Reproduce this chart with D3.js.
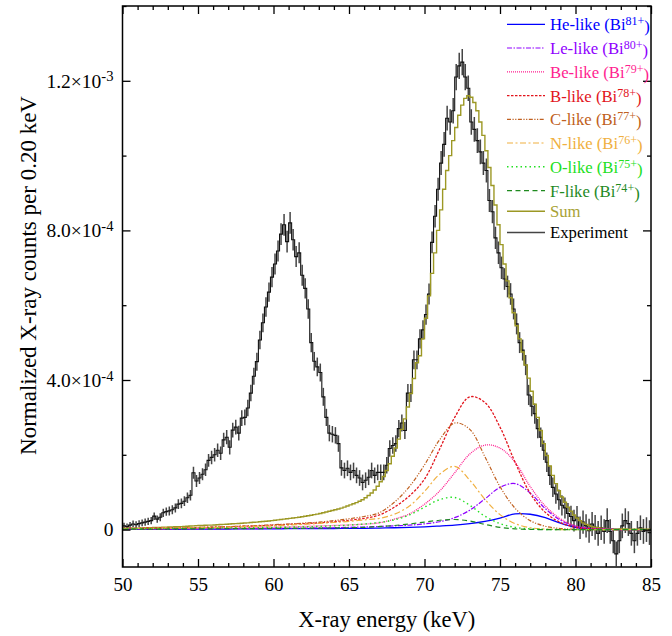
<!DOCTYPE html>
<html>
<head>
<meta charset="utf-8">
<script src="https://cdn.jsdelivr.net/npm/d3@7"></script>
<style>
  body { margin: 0; background: #fff; }
  svg text { font-family: "Liberation Serif", "Times New Roman", serif; }
</style>
</head>
<body>
<svg id="chart" width="672" height="636"></svg>
<script>
// All intensities below are in units of 1e-5 (normalized counts per 0.20 keV bin)
const UNIT = 1e-5;
const BIN_START = 50;     // keV, left edge of the first histogram bin
const BIN_WIDTH = 0.2;    // keV

// Measured spectrum, one value per 0.2 keV bin from 50 to 85 keV
const experiment = [
  1.0, 0.8, 1.2, 1.5, 1.3, 1.6, 1.8, 2.0, 2.2, 2.4,
  3.6, 2.8, 3.3, 4.5, 4.8, 5.0, 5.3, 5.8, 6.8, 7.0,
  7.6, 8.5, 9.2, 15.2, 13.0, 13.8, 14.8, 16.0, 18.5, 19.3,
  20.0, 21.2, 20.4, 24.0, 24.7, 22.0, 26.6, 27.4, 25.8, 29.8,
  30.0, 32.5, 36.5, 41.0, 44.9, 50.7, 55.3, 59.5, 63.5, 67.5,
  71.0, 74.5, 79.0, 81.5, 77.0, 82.0, 77.5, 73.0, 74.0, 68.0,
  64.5, 59.0, 50.0, 45.0, 43.5, 42.0, 35.5, 30.0, 25.8, 25.5,
  25.2, 23.0, 16.5, 15.8, 16.4, 15.3, 15.8, 14.5, 13.8, 12.6,
  13.2, 14.0, 15.8, 14.5, 15.3, 15.3, 15.3, 17.2, 21.7, 22.5,
  23.0, 27.0, 28.5, 26.5, 36.5, 36.5, 45.4, 45.4, 51.0, 53.4,
  57.5, 63.0, 76.8, 83.8, 91.0, 98.0, 103.0, 110.0, 109.0, 112.0,
  121.0, 124.0, 125.0, 121.0, 118.0, 109.0, 107.0, 104.0, 101.0, 98.0,
  96.0, 88.0, 85.0, 78.0, 74.0, 70.0, 67.0, 65.0, 63.0, 59.0,
  55.0, 50.0, 48.0, 44.0, 36.0, 33.0, 31.0, 27.0, 24.7, 21.2,
  18.0, 14.5, 11.3, 9.5, 8.0, 6.5, 5.8, 4.3, 3.5, 2.4,
  3.3, 0.5, 2.0, 1.0, -0.3, 1.5, 0.6, -1.0, 0.5, -0.5,
  2.4, -0.5, -3.0, -6.5, -3.0, 1.0, 2.4, 1.6, -1.0, -3.0, -1.0, 0.5, -0.5, 0.0, -0.8
];

// One-sigma uncertainty of each measured bin
const experimentErr = [
  0.8, 0.8, 0.8, 0.9, 0.9, 0.9, 0.9, 1.0, 1.0, 1.0,
  1.0, 1.0, 1.1, 1.1, 1.1, 1.2, 1.2, 1.2, 1.3, 1.3,
  1.3, 1.4, 1.4, 1.6, 1.6, 1.6, 1.6, 1.7, 1.7, 1.8,
  1.8, 1.8, 1.8, 1.9, 1.9, 1.9, 2.0, 2.0, 2.0, 2.1,
  2.1, 2.2, 2.2, 2.3, 2.4, 2.5, 2.5, 2.6, 2.6, 2.7,
  2.8, 2.8, 2.9, 2.9, 2.9, 2.9, 2.9, 2.8, 2.8, 2.8,
  2.7, 2.6, 2.6, 2.5, 2.5, 2.4, 2.4, 2.3, 2.2, 2.2,
  2.2, 2.2, 2.1, 2.1, 2.1, 2.1, 2.1, 2.1, 2.1, 2.1,
  2.1, 2.1, 2.1, 2.1, 2.1, 2.1, 2.1, 2.2, 2.2, 2.2,
  2.2, 2.3, 2.3, 2.3, 2.4, 2.4, 2.5, 2.5, 2.6, 2.6,
  2.7, 2.8, 2.9, 3.0, 3.1, 3.2, 3.3, 3.3, 3.4, 3.4,
  3.5, 3.5, 3.5, 3.5, 3.4, 3.4, 3.3, 3.3, 3.3, 3.2,
  3.2, 3.1, 3.1, 3.0, 3.0, 3.0, 2.9, 2.9, 2.9, 2.8,
  2.8, 2.8, 2.8, 2.7, 2.7, 2.7, 2.7, 2.6, 2.6, 2.6,
  2.6, 2.6, 2.6, 2.6, 2.7, 2.7, 2.8, 2.8, 2.9, 2.9,
  3.0, 3.0, 3.1, 3.1, 3.2, 3.2, 3.3, 3.3, 3.3, 3.3,
  3.3, 3.3, 3.3, 3.3, 3.3, 3.3, 3.3, 3.3, 3.3, 3.3, 3.3, 3.3, 3.3, 3.3, 3.3
];

// Summed fit, binned like the measurement
const sumFit = [
  0.3, 0.3, 0.35, 0.35, 0.4, 0.4, 0.45, 0.45, 0.5, 0.5,
  0.55, 0.55, 0.6, 0.65, 0.65, 0.7, 0.7, 0.75, 0.8, 0.8,
  0.85, 0.9, 0.95, 1.0, 1.05, 1.1, 1.1, 1.15, 1.2, 1.2,
  1.25, 1.3, 1.35, 1.4, 1.45, 1.5, 1.55, 1.6, 1.65, 1.7,
  1.75, 1.8, 1.9, 1.95, 2.0, 2.1, 2.15, 2.25, 2.3, 2.4,
  2.5, 2.6, 2.7, 2.8, 2.9, 3.0, 3.1, 3.2, 3.3, 3.45,
  3.55, 3.7, 3.85, 4.0, 4.15, 4.3, 4.5, 4.7, 4.9, 5.1,
  5.3, 5.5, 5.75, 6.0, 6.3, 6.6, 6.9, 7.2, 7.6, 8.0,
  8.5, 9.1, 9.8, 10.6, 11.6, 12.8, 14.2, 15.8, 17.6, 19.6,
  21.8, 24.2, 26.8, 29.6, 32.8, 36.4, 40.4, 44.6, 46.5, 51.0,
  56.5, 62.5, 68.5, 74.0, 80.0, 85.5, 91.0, 96.0, 100.0, 104.0,
  107.5, 110.8, 113.5, 115.3, 116.0, 115.6, 114.2, 112.0, 109.0, 105.4,
  101.3, 96.8, 92.0, 86.8, 81.5, 76.2, 71.0, 66.5, 62.0, 58.0,
  54.5, 51.0, 47.5, 44.0, 40.5, 37.0, 33.5, 30.0, 26.5, 23.0,
  19.8, 17.0, 14.5, 12.3, 10.4, 8.7, 7.3, 6.0, 4.9, 3.9,
  3.1, 2.4, 1.8, 1.4, 1.1, 0.8, 0.6, 0.5, 0.4, 0.3,
  0.25, 0.2, 0.2, 0.2, 0.15, 0.15, 0.15, 0.1, 0.1, 0.1, 0.1, 0.1, 0.1, 0.1, 0.1
];

// Fitted charge-state components, sampled every 1 keV from 50 to 85 keV
const componentEnergy = d3.range(50, 86, 1);
const heLike = [0.1, 0.1, 0.1, 0.1, 0.1, 0.12, 0.14, 0.16, 0.18, 0.2, 0.22, 0.24, 0.26, 0.28, 0.3, 0.32, 0.35, 0.4, 0.5, 0.6, 0.75, 0.95, 1.2, 1.6, 2.2, 3.1, 4.2, 4.1, 3.2, 1.7, 0.6, 0.15, 0.05, 0, 0, 0];
const leLike = [0.1, 0.1, 0.12, 0.14, 0.16, 0.18, 0.2, 0.22, 0.25, 0.28, 0.31, 0.35, 0.4, 0.45, 0.5, 0.6, 0.7, 0.85, 1.0, 1.2, 1.55, 2.1, 3.2, 5.2, 8.2, 11.3, 12.3, 9.8, 5.6, 2.5, 0.9, 0.3, 0.1, 0, 0, 0];
const beLike = [0.15, 0.18, 0.2, 0.23, 0.26, 0.3, 0.34, 0.4, 0.46, 0.54, 0.62, 0.72, 0.84, 0.98, 1.1, 1.25, 1.45, 1.8, 2.8, 4.2, 6.8, 10.3, 15.2, 20.2, 22.6, 21.8, 18.0, 11.5, 6.3, 2.9, 1.0, 0.3, 0.1, 0, 0, 0];
const bLike  = [0.3, 0.35, 0.4, 0.45, 0.5, 0.55, 0.65, 0.75, 0.9, 1.0, 1.2, 1.4, 1.6, 1.8, 2.1, 2.5, 3.0, 3.9, 6.0, 9.0, 13.5, 21.5, 30.0, 35.5, 34.0, 27.4, 18.0, 9.7, 4.6, 1.9, 0.6, 0.2, 0.05, 0, 0, 0];
const cLike  = [0.3, 0.35, 0.4, 0.45, 0.5, 0.6, 0.7, 0.8, 0.95, 1.1, 1.3, 1.5, 1.75, 2.0, 2.4, 2.9, 3.5, 4.5, 7.3, 11.5, 17.3, 24.0, 28.5, 26.8, 19.5, 11.5, 5.7, 2.4, 0.9, 0.3, 0.1, 0, 0, 0, 0, 0];
const nLike  = [0.3, 0.3, 0.35, 0.4, 0.45, 0.5, 0.55, 0.65, 0.75, 0.9, 1.0, 1.2, 1.4, 1.65, 1.9, 2.2, 2.6, 3.0, 4.1, 6.3, 10.2, 14.8, 16.9, 13.2, 8.1, 4.0, 1.6, 0.5, 0.15, 0, 0, 0, 0, 0, 0, 0];
const oLike  = [0.2, 0.22, 0.25, 0.28, 0.3, 0.34, 0.38, 0.43, 0.48, 0.54, 0.6, 0.65, 0.75, 0.85, 1.0, 1.2, 1.5, 1.9, 2.6, 3.9, 6.0, 8.0, 8.6, 6.5, 3.6, 1.6, 0.6, 0.2, 0.05, 0, 0, 0, 0, 0, 0, 0];
const fLike  = [0.1, 0.12, 0.14, 0.16, 0.18, 0.2, 0.22, 0.24, 0.26, 0.28, 0.3, 0.32, 0.35, 0.4, 0.45, 0.5, 0.6, 0.8, 1.1, 1.5, 2.0, 2.5, 2.7, 2.3, 1.4, 0.6, 0.2, 0.05, 0, 0, 0, 0, 0, 0, 0, 0];

// Axis ticks
const xMajorTicks = [50, 55, 60, 65, 70, 75, 80, 85];
const yMajorTicks = [0, 4.0e-4, 8.0e-4, 1.2e-3];
const yTickLabels = [["0", ""], ["4.0\u00d710", "-4"], ["8.0\u00d710", "-4"], ["1.2\u00d710", "-3"]];

const components = [
  { name: "He-like", charge: "81+", values: heLike, color: "#0000ff", dash: null,                    width: 1.3 },
  { name: "Le-like", charge: "80+", values: leLike, color: "#8f00ff", dash: "5,1.5,1.5,1.5",         width: 1.2 },
  { name: "Be-like", charge: "79+", values: beLike, color: "#ff1e90", dash: "1,1",                   width: 1.3 },
  { name: "B-like",  charge: "78+", values: bLike,  color: "#e2141c", dash: "2.5,1.5",               width: 1.3 },
  { name: "C-like",  charge: "77+", values: cLike,  color: "#c06020", dash: "4,1.5,1.2,1.5,1.2,1.5", width: 1.2 },
  { name: "N-like",  charge: "76+", values: nLike,  color: "#f0b040", dash: "6,2.5,2,2.5",           width: 1.2 },
  { name: "O-like",  charge: "75+", values: oLike,  color: "#22e022", dash: "1.5,3",                 width: 1.4 },
  { name: "F-like",  charge: "74+", values: fLike,  color: "#1f8a1f", dash: "5,3.5",                 width: 1.2 }
];

const SUM_COLOR = "#9c9824";
const EXP_COLOR = "#111";

// Layout
const svg = d3.select("#chart");
const plot = { left: 122.5, right: 651, top: 6, bottom: 567 };

const x = d3.scaleLinear().domain([50, 85]).range([plot.left, plot.right]);
const y = d3.scaleLinear().domain([-1.0e-4, 1.4e-3]).range([plot.bottom, plot.top]);

svg.append("defs").append("clipPath").attr("id", "plot-clip")
  .append("rect")
  .attr("x", plot.left).attr("y", plot.top)
  .attr("width", plot.right - plot.left).attr("height", plot.bottom - plot.top);

const dataLayer = svg.append("g").attr("clip-path", "url(#plot-clip)");

// Histogram step outline: each bin contributes its left and right edge at its level
function histogramPoints(values) {
  return values.flatMap((v, i) => [
    [BIN_START + i * BIN_WIDTH, v],
    [BIN_START + (i + 1) * BIN_WIDTH, v]
  ]);
}
const stepLine = d3.line().x(d => x(d[0])).y(d => y(d[1] * UNIT));

// Experiment: error bars and step outline
dataLayer.append("g")
  .selectAll("line")
  .data(experiment)
  .join("line")
  .attr("x1", (d, i) => x(BIN_START + (i + 0.5) * BIN_WIDTH))
  .attr("x2", (d, i) => x(BIN_START + (i + 0.5) * BIN_WIDTH))
  .attr("y1", (d, i) => y((d - experimentErr[i]) * UNIT))
  .attr("y2", (d, i) => y((d + experimentErr[i]) * UNIT))
  .attr("stroke", "#444")
  .attr("stroke-width", 1.5);

dataLayer.append("path")
  .attr("d", stepLine(histogramPoints(experiment)))
  .attr("fill", "none")
  .attr("stroke", EXP_COLOR)
  .attr("stroke-width", 1.1);

// Sum of the fit
dataLayer.append("path")
  .attr("d", stepLine(histogramPoints(sumFit)))
  .attr("fill", "none")
  .attr("stroke", SUM_COLOR)
  .attr("stroke-width", 1.4);

// Individual components
const compLine = d3.line()
  .x((d, i) => x(componentEnergy[i]))
  .y(d => y(d * UNIT))
  .curve(d3.curveCatmullRom.alpha(0.5));

dataLayer.append("g")
  .selectAll("path")
  .data(components)
  .join("path")
  .attr("d", d => compLine(d.values))
  .attr("fill", "none")
  .attr("stroke", d => d.color)
  .attr("stroke-width", d => d.width)
  .attr("stroke-dasharray", d => d.dash);

// Axes: ticks point inward on all four sides
const xMinor = d3.range(50, 86, 1).filter(v => !xMajorTicks.includes(v));
const yMinor = [2e-4, 6e-4, 1.0e-3, 1.4e-3];

function styleAxis(g) {
  g.select(".domain").remove();
  g.selectAll(".tick line").attr("stroke", "#000").attr("stroke-width", 1.3);
}

const bottom = svg.append("g").attr("transform", `translate(0,${plot.bottom})`);
bottom.call(d3.axisBottom(x).tickValues(xMajorTicks).tickFormat(d3.format("d"))
  .tickSizeInner(-8).tickSizeOuter(0).tickPadding(11)).call(styleAxis);
bottom.selectAll(".tick text").attr("font-size", 19).attr("fill", "#000")
  .attr("font-family", "Liberation Serif, Times New Roman, serif");
svg.append("g").attr("transform", `translate(0,${plot.bottom})`)
  .call(d3.axisBottom(x).tickValues(xMinor).tickFormat("").tickSizeInner(-4).tickSizeOuter(0)).call(styleAxis);

svg.append("g").attr("transform", `translate(0,${plot.top})`)
  .call(d3.axisTop(x).tickValues(xMajorTicks).tickFormat("").tickSizeInner(-8).tickSizeOuter(0)).call(styleAxis);
svg.append("g").attr("transform", `translate(0,${plot.top})`)
  .call(d3.axisTop(x).tickValues(xMinor).tickFormat("").tickSizeInner(-4).tickSizeOuter(0)).call(styleAxis);

const left = svg.append("g").attr("transform", `translate(${plot.left},0)`);
left.call(d3.axisLeft(y).tickValues(yMajorTicks).tickSizeInner(-8).tickSizeOuter(0).tickPadding(9)).call(styleAxis);
left.selectAll(".tick text")
  .attr("font-size", 19.5).attr("fill", "#000")
  .attr("font-family", "Liberation Serif, Times New Roman, serif")
  .each(function (d, i) {
    const t = d3.select(this);
    const [mantissa, exponent] = yTickLabels[i];
    t.text(null);
    t.append("tspan").text(mantissa);
    if (exponent) {
      t.append("tspan").attr("dy", "-0.42em").attr("font-size", "0.75em").text(exponent);
    }
  });
svg.append("g").attr("transform", `translate(${plot.left},0)`)
  .call(d3.axisLeft(y).tickValues(yMinor).tickFormat("").tickSizeInner(-4).tickSizeOuter(0)).call(styleAxis);

svg.append("g").attr("transform", `translate(${plot.right},0)`)
  .call(d3.axisRight(y).tickValues(yMajorTicks).tickFormat("").tickSizeInner(-8).tickSizeOuter(0)).call(styleAxis);
svg.append("g").attr("transform", `translate(${plot.right},0)`)
  .call(d3.axisRight(y).tickValues(yMinor).tickFormat("").tickSizeInner(-4).tickSizeOuter(0)).call(styleAxis);

// Frame
svg.append("rect")
  .attr("x", plot.left).attr("y", plot.top)
  .attr("width", plot.right - plot.left).attr("height", plot.bottom - plot.top)
  .attr("fill", "none").attr("stroke", "#000").attr("stroke-width", 1.5);

// Axis titles
svg.append("text")
  .attr("x", (plot.left + plot.right) / 2).attr("y", 627)
  .attr("text-anchor", "middle").attr("font-size", 22.5).attr("fill", "#000")
  .text("X-ray energy (keV)");

svg.append("text")
  .attr("transform", `translate(36,${(plot.top + plot.bottom) / 2 - 11}) rotate(-90)`)
  .attr("text-anchor", "middle").attr("font-size", 23).attr("fill", "#000")
  .text("Normalized X-ray counts per 0.20 keV");

// Legend
const legendRows = components.map(c => ({ label: c.name, charge: c.charge, color: c.color, dash: c.dash, width: c.width, textColor: c.color }))
  .concat([
    { label: "Sum", charge: null, color: SUM_COLOR, dash: null, width: 1.5, textColor: "#a8a235" },
    { label: "Experiment", charge: null, color: "#444", dash: null, width: 1.5, textColor: "#000" }
  ]);
const legendY = [24.3, 48, 71.8, 95.6, 119.3, 143, 166.8, 190.6, 211.2, 232.4];
const legend = svg.append("g");
const rows = legend.selectAll("g").data(legendRows).join("g")
  .attr("transform", (d, i) => `translate(0,${legendY[i]})`);
rows.append("line")
  .attr("x1", 507).attr("x2", 545).attr("y1", 0).attr("y2", 0)
  .attr("stroke", d => d.color).attr("stroke-width", d => d.width)
  .attr("stroke-dasharray", d => d.dash);
const labels = rows.append("text")
  .attr("x", 550).attr("y", 6)
  .attr("font-size", 16.7)
  .attr("fill", d => d.textColor);
labels.each(function (d) {
  const t = d3.select(this);
  if (d.charge) {
    t.append("tspan").text(`${d.label} (Bi`);
    t.append("tspan").attr("dy", "-0.42em").attr("font-size", "0.72em").text(d.charge);
    t.append("tspan").attr("dy", "0.42em").text(")");
  } else {
    t.text(d.label);
  }
});
</script>
</body>
</html>
